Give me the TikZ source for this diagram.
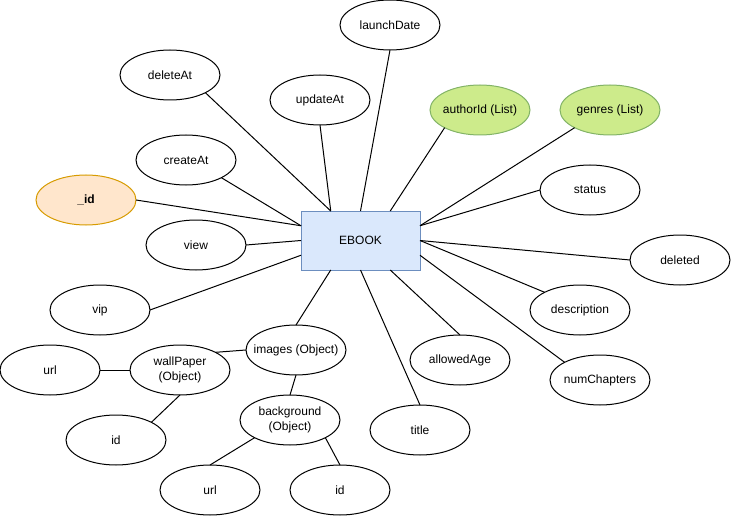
\documentclass[tikz,border=0pt]{standalone}
\usepackage{fontspec}
\setmainfont{Liberation Sans}
\usetikzlibrary{calc,shapes.geometric}
\definecolor{entfill}{HTML}{DAE8FC}
\definecolor{entline}{HTML}{6C8EBF}
\definecolor{listfill}{HTML}{CDEB8B}
\definecolor{listline}{HTML}{82B366}
\definecolor{keyfill}{HTML}{FFE6CC}
\definecolor{keyline}{HTML}{D79B00}
\begin{document}
\begin{tikzpicture}[x=1pt,y=-1pt,
  attr/.style={ellipse, draw=black, fill=white, line width=1pt,
    minimum width=100pt, minimum height=50pt, inner sep=0pt, outer sep=0pt},
  listattr/.style={attr, draw=listline, fill=listfill},
  keyattr/.style={attr, draw=keyline, fill=keyfill},
  lbl/.style={font=\fontsize{12}{14.5}\selectfont, align=center, inner sep=0pt},
  entity/.style={draw=entline, fill=entfill, line width=1pt,
    minimum width=119pt, minimum height=59pt, inner sep=0pt, outer sep=0pt,
    font=\fontsize{12}{14.5}\selectfont},
  link/.style={draw=black, line width=1pt}
]
\useasboundingbox (0,0) rectangle (731,516);

% central entity
\node[entity] (ebook) at (360.5,240.5) {EBOOK};

% connection points on the entity's sides (quarter, half, three quarters)
\coordinate (t1) at ($(ebook.north west)!0.25!(ebook.north east)$);
\coordinate (t2) at ($(ebook.north west)!0.5!(ebook.north east)$);
\coordinate (t3) at ($(ebook.north west)!0.75!(ebook.north east)$);
\coordinate (b1) at ($(ebook.south west)!0.25!(ebook.south east)$);
\coordinate (b2) at ($(ebook.south west)!0.5!(ebook.south east)$);
\coordinate (b3) at ($(ebook.south west)!0.75!(ebook.south east)$);
\coordinate (l1) at ($(ebook.north west)!0.25!(ebook.south west)$);
\coordinate (l2) at ($(ebook.north west)!0.5!(ebook.south west)$);
\coordinate (l3) at ($(ebook.north west)!0.75!(ebook.south west)$);
\coordinate (r1) at ($(ebook.north east)!0.25!(ebook.south east)$);
\coordinate (r2) at ($(ebook.north east)!0.5!(ebook.south east)$);
\coordinate (r3) at ($(ebook.north east)!0.75!(ebook.south east)$);

% attributes
\node[attr, label={[lbl]center:launchDate}] (launch) at (390,25) {};
\node[attr, label={[lbl]center:deleteAt}] (delat) at (170,75) {};
\node[attr, label={[lbl]center:updateAt}] (updat) at (320,100) {};
\node[listattr, label={[lbl]center:authorId (List)}] (author) at (480,110) {};
\node[listattr, label={[lbl]center:genres (List)}] (genres) at (610,110) {};
\node[attr, label={[lbl]center:createAt}] (creat) at (186,160) {};
\node[attr, label={[lbl]center:status}] (status) at (590,190) {};
\node[keyattr, label={[lbl,font=\fontsize{12}{14.5}\selectfont\bfseries]center:\_id}] (oid) at (86,200) {};
\node[attr, label={[lbl]center:view}] (view) at (196,245) {};
\node[attr, label={[lbl]center:deleted}] (deleted) at (680,260) {};
\node[attr, label={[lbl]center:vip}] (vip) at (100,310) {};
\node[attr, label={[lbl]center:description}] (desc) at (580,310) {};
\node[attr, label={[lbl]center:images (Object)}] (images) at (296,350) {};
\node[attr, label={[lbl]center:allowedAge}] (age) at (460,360) {};
\node[attr, label={[lbl]center:url}] (wpurl) at (50,370) {};
\node[attr, label={[lbl]center:wallPaper\\(Object)}] (wall) at (180,370) {};
\node[attr, label={[lbl]center:numChapters}] (chap) at (600,380) {};
\node[attr, label={[lbl]center:background\\(Object)}] (bg) at (290,420) {};
\node[attr, label={[lbl]center:title}] (title) at (420,430) {};
\node[attr, label={[lbl]center:id}] (wpid) at (116,440) {};
\node[attr, label={[lbl]center:url}] (bgurl) at (210,490) {};
\node[attr, label={[lbl]center:id}] (bgid) at (340,490) {};

% links to the entity
\draw[link] (launch.south) -- (t2);
\draw[link] (delat.south east) -- (t1);
\draw[link] (updat.south) -- (t1);
\draw[link] (author.south west) -- (t3);
\draw[link] (genres.south west) -- (r1);
\draw[link] (status.west) -- (r1);
\draw[link] (creat.south east) -- (l1);
\draw[link] (oid.east) -- (l1);
\draw[link] (view.east) -- (l2);
\draw[link] (vip.east) -- (l3);
\draw[link] (deleted.west) -- (r2);
\draw[link] (desc.north west) -- (r2);
\draw[link] (chap.north west) -- (r3);
\draw[link] (age.north) -- (b3);
\draw[link] (title.north) -- (b2);
\draw[link] (images.north) -- (b1);

% nested objects
\draw[link] (wall.north east) -- (images.west);
\draw[link] (wpurl.east) -- (wall.west);
\draw[link] (wall.south) -- (wpid.north east);
\draw[link] (images.south) -- (bg.north);
\draw[link] (bg.south west) -- (bgurl.north);
\draw[link] (bg.south east) -- (bgid.north);
\end{tikzpicture}
\end{document}
